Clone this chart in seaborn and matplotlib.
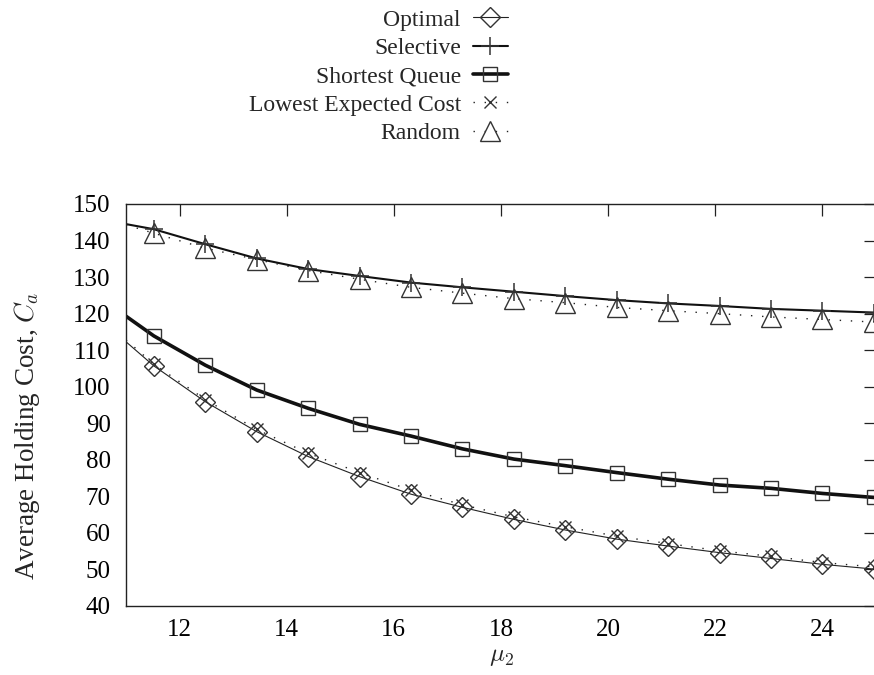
import matplotlib
matplotlib.use("Agg")
import matplotlib.pyplot as plt
import seaborn as sns
import pandas as pd
import numpy as np

# ---- data ----
mu2 = [11.0, 11.52, 12.48, 13.44, 14.40, 15.36, 16.32, 17.28, 18.24,
       19.20, 20.16, 21.12, 22.08, 23.04, 24.00, 24.96]
optimal = [112.3, 105.7, 95.9, 87.7, 80.9, 75.4, 70.6, 67.0, 63.7,
           60.8, 58.3, 56.4, 54.6, 53.0, 51.4, 50.1]
selective = [144.5, 143.1, 139.0, 135.1, 132.2, 130.3, 128.5, 127.2, 126.0,
             124.8, 123.7, 122.8, 122.1, 121.3, 120.8, 120.3]
shortest_queue = [119.3, 113.9, 105.9, 99.1, 94.1, 89.7, 86.5, 83.0, 80.2,
                  78.4, 76.5, 74.7, 73.1, 72.2, 70.8, 69.7]
lowest_expected = [112.8, 106.2, 96.5, 88.3, 81.8, 76.5, 71.7, 67.7, 64.4,
                   61.7, 59.1, 57.1, 55.1, 53.6, 51.9, 50.7]
random_ = [144.3, 142.0, 137.9, 134.8, 131.8, 129.4, 127.2, 125.6, 124.1,
           123.0, 121.7, 120.8, 120.0, 119.1, 118.4, 117.7]

series_names = ["Optimal", "Selective", "Shortest Queue",
                "Lowest Expected Cost", "Random"]
series_vals = [optimal, selective, shortest_queue, lowest_expected, random_]

xticks = [12, 14, 16, 18, 20, 22, 24]
yticks = [40, 50, 60, 70, 80, 90, 100, 110, 120, 130, 140, 150]

df = pd.DataFrame({
    "mu2": np.tile(mu2, len(series_names)),
    "cost": np.concatenate(series_vals),
    "policy": np.repeat(series_names, len(mu2)),
})

# ---- style ----
sns.set_theme(style="white")
plt.rcParams["font.family"] = ["Liberation Serif", "DejaVu Serif"]
plt.rcParams["mathtext.fontset"] = "cm"

styles = {
    "Optimal": dict(lw=0.8, ls="-", marker="D", ms=10, color="#222222"),
    "Selective": dict(lw=1.5, ls="-", marker="+", ms=13, mew=1.1, color="#111111"),
    "Shortest Queue": dict(lw=2.6, ls="-", marker="s", ms=10.5, color="#111111"),
    "Lowest Expected Cost": dict(lw=1.0, ls=(0, (1, 7)), marker="x", ms=9, color="#222222"),
    "Random": dict(lw=1.0, ls=(0, (1, 7)), marker="^", ms=14, color="#222222"),
}

fig = plt.figure(figsize=(8.74, 6.75), dpi=100)
ax = fig.add_axes([126 / 874, 69 / 675, 750 / 874, 402 / 675])

handles = []
for name in series_names:
    st = styles[name]
    sub = df[df["policy"] == name]
    sns.lineplot(data=sub, x="mu2", y="cost", ax=ax, color=st["color"],
                 linewidth=st["lw"], linestyle=st["ls"], label=None,
                 legend=False, estimator=None, sort=False)
    line = ax.lines[-1]
    line.set_marker(st["marker"])
    line.set_markersize(st["ms"])
    line.set_markevery(slice(1, None))
    line.set_markerfacecolor("none")
    line.set_markeredgecolor("#333333")
    line.set_markeredgewidth(st.get("mew", 1.0))
    line.set_label(name)
    handles.append(line)

ax.set_xlim(11, 25)
ax.set_ylim(40, 150)
ax.set_xticks(xticks)
ax.set_yticks(yticks)
ax.tick_params(axis="both", direction="in", length=8.5, width=0.9,
               top=True, right=True, labelsize=18, colors="#222222",
               labelcolor="black")
ax.tick_params(axis="x", pad=9)
ax.tick_params(axis="y", pad=11)
for sp in ax.spines.values():
    sp.set_color("#222222")
    sp.set_linewidth(1.0)

ax.set_xlabel(r"$\mu_2$", fontsize=18, labelpad=4)
ax.set_ylabel(r"Average Holding Cost, $C_a$", fontsize=19.5)
ax.yaxis.set_label_coords((42 - 126) / 750, (606 - 436) / 402)

fig.legend(handles=handles, labels=series_names, loc="upper right",
           bbox_to_anchor=(508 / 874, 1 - 9 / 675), frameon=False,
           markerfirst=False, fontsize=17, handlelength=1.5,
           handletextpad=0.5, labelspacing=0.29, borderpad=0,
           borderaxespad=0, numpoints=1)

fig.savefig("out.png", dpi=100)
